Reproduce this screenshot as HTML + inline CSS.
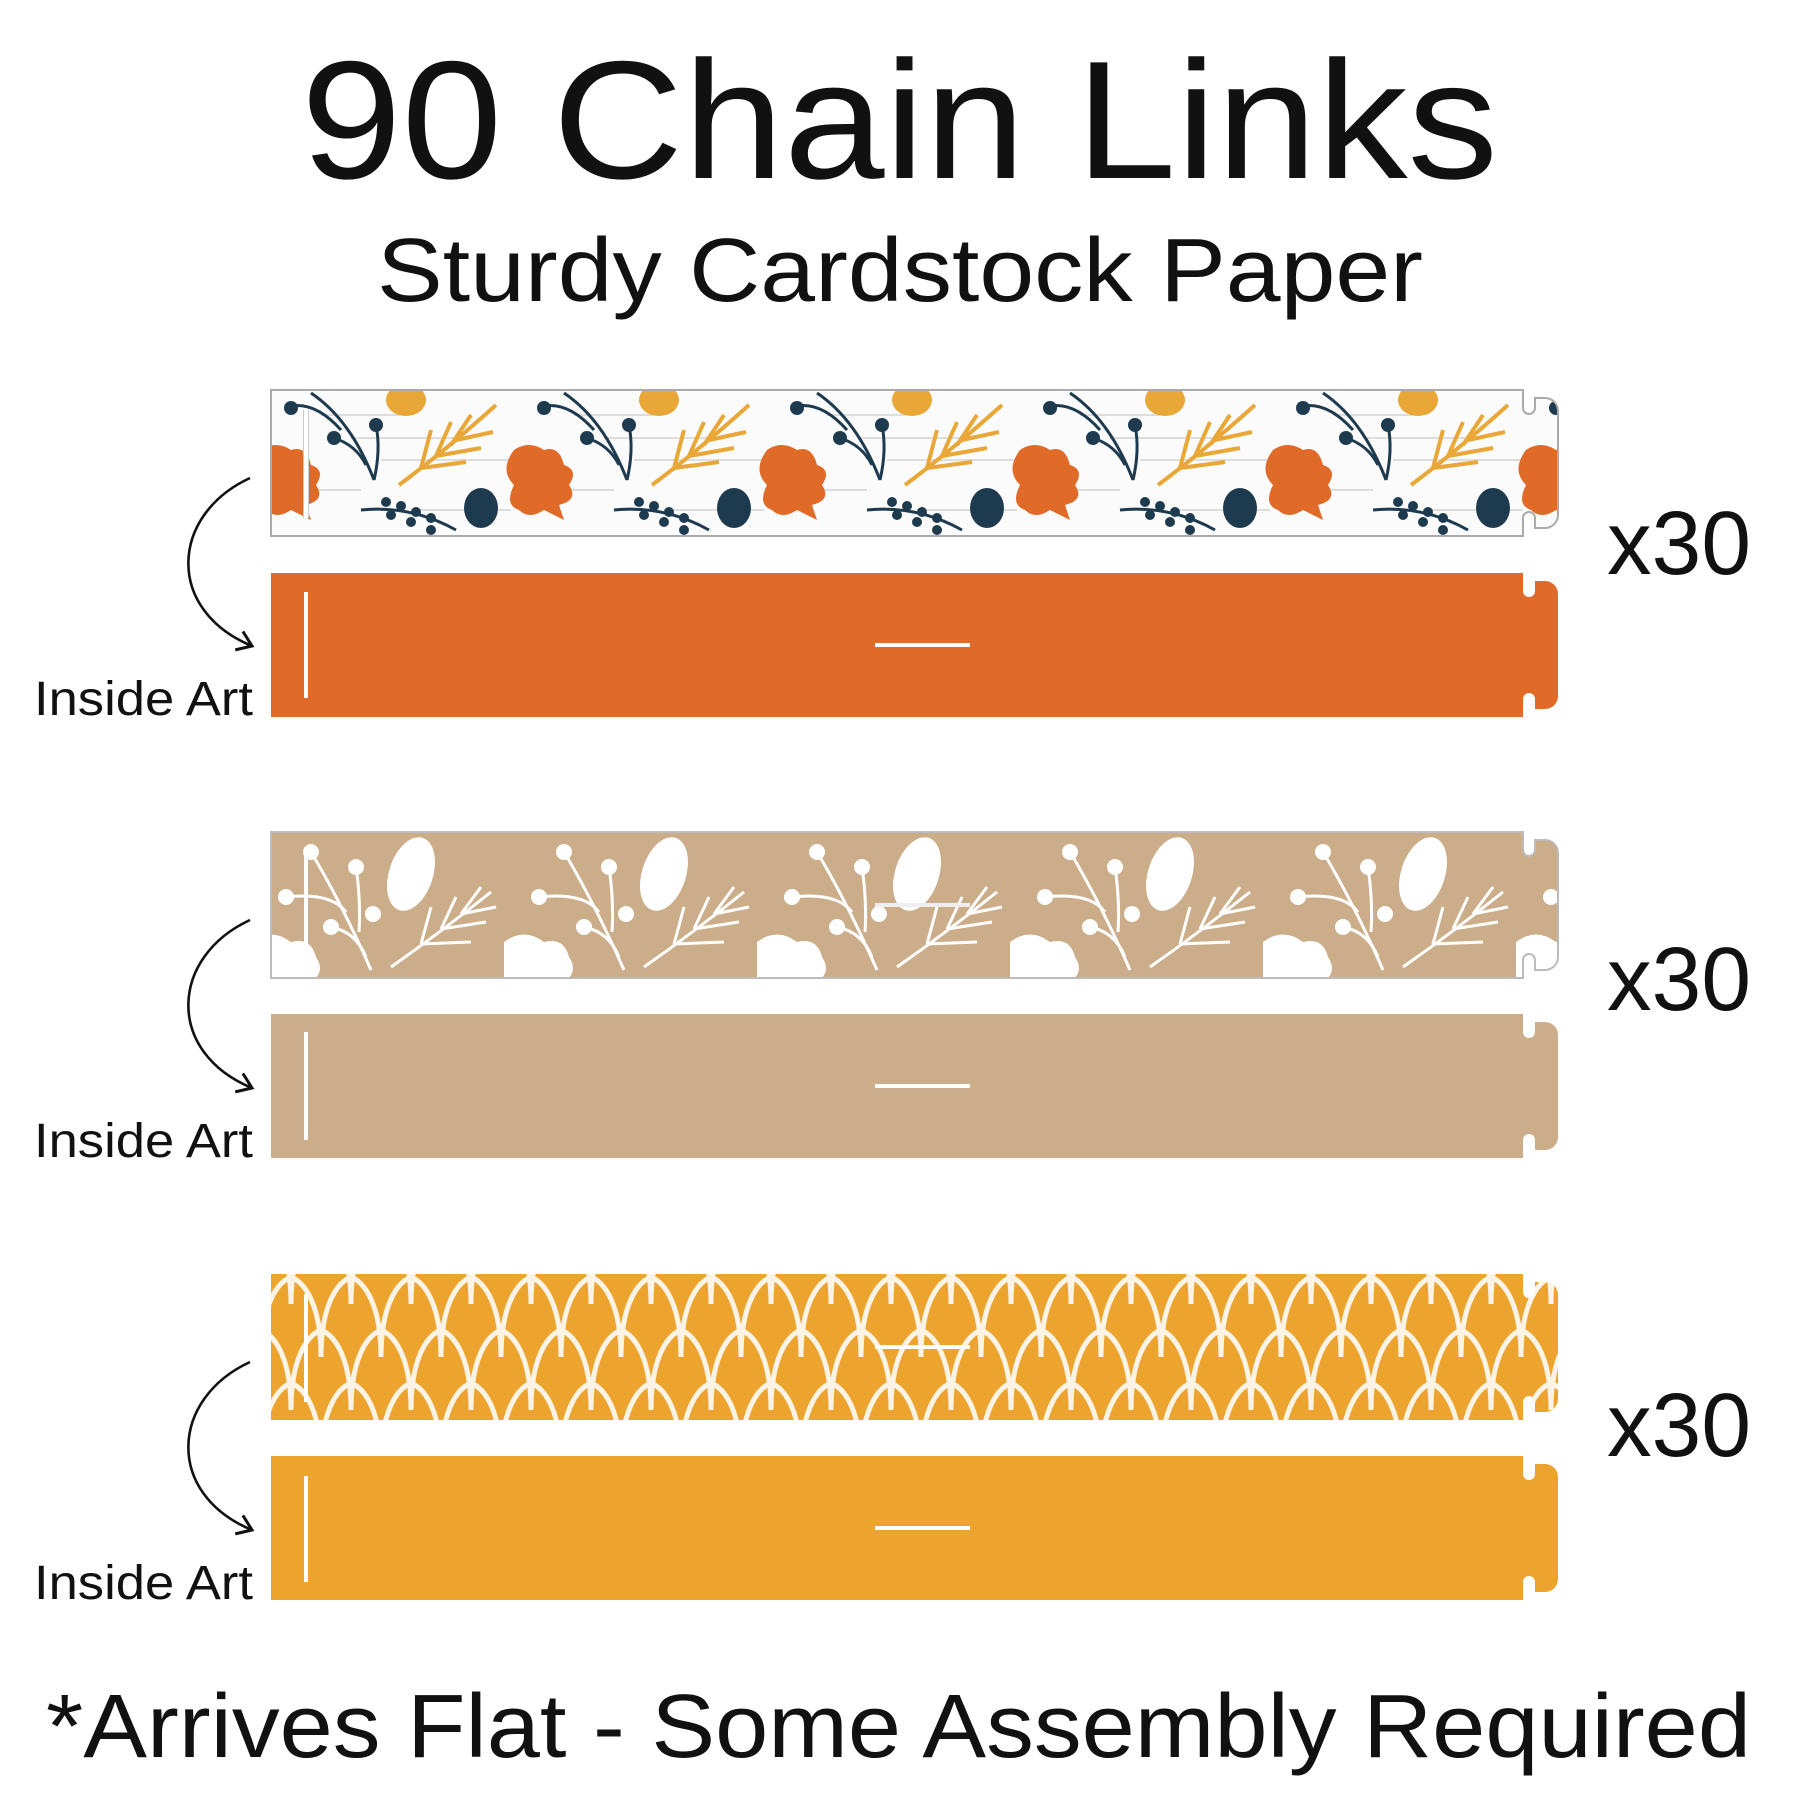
<!DOCTYPE html>
<html><head><meta charset="utf-8"><style>html,body{margin:0;padding:0;background:#fff}svg{display:block}</style></head>
<body>
<svg width="1800" height="1800" viewBox="0 0 1800 1800" xmlns="http://www.w3.org/2000/svg" font-family="Liberation Sans, sans-serif">
<defs>
<pattern id="leaf" patternUnits="userSpaceOnUse" x="271" y="390" width="253" height="146">
 <rect width="253" height="146" fill="#fbfbfb"/>
 <g stroke="#ddd" stroke-width="2"><line x1="50" y1="25" x2="130" y2="25"/><line x1="110" y1="70" x2="250" y2="70"/><line x1="0" y1="100" x2="90" y2="100"/><line x1="140" y1="120" x2="240" y2="120"/><line x1="80" y1="48" x2="200" y2="48"/></g>
 <g stroke="#1d3a4f" stroke-width="3" fill="none"><path d="M40,3 Q80,30 103,90"/><path d="M20,16 Q45,12 70,40"/><path d="M63,48 Q85,55 95,75"/><path d="M105,35 Q110,60 103,90"/><path d="M90,120 Q140,115 185,140"/></g>
 <g fill="#1d3a4f"><circle cx="20" cy="18" r="7"/><circle cx="63" cy="48" r="7"/><circle cx="105" cy="35" r="7"/><ellipse cx="210" cy="118" rx="17" ry="20"/><circle cx="115" cy="112" r="5"/><circle cx="130" cy="116" r="5"/><circle cx="145" cy="122" r="5"/><circle cx="160" cy="128" r="5"/><circle cx="120" cy="125" r="5"/><circle cx="140" cy="132" r="5"/><circle cx="160" cy="140" r="5"/></g>
 <ellipse cx="135" cy="10" rx="20" ry="16" fill="#e8a736"/>
 <g stroke="#e8a736" stroke-width="4" fill="none"><path d="M128,95 Q175,60 225,15"/><path d="M150,78 L160,40 M165,66 L180,32 M180,55 L200,25 M150,78 L195,72 M165,66 L210,58 M185,50 L222,42"/></g>
 <g fill="#e06a27"><path d="M-10,60 Q5,50 20,60 Q35,55 40,75 Q55,80 45,95 Q55,110 35,115 L40,130 L20,120 Q5,130 -5,120 Q-20,115 -10,95 Q-25,80 -10,60Z"/><path d="M243,60 Q258,50 273,60 Q288,55 293,75 Q308,80 298,95 Q308,110 288,115 L293,130 L273,120 Q258,130 248,120 Q233,115 243,95 Q228,80 243,60Z"/></g>
</pattern>
<pattern id="kraft" patternUnits="userSpaceOnUse" x="271" y="832" width="253" height="146">
 <rect width="253" height="146" fill="#cbad89"/>
 <g stroke="#fff" stroke-width="3" fill="none"><path d="M100,138 Q70,70 40,20"/><path d="M15,65 Q60,60 75,80"/><path d="M85,35 Q90,70 88,100"/><path d="M60,95 Q85,100 95,125"/><path d="M120,135 Q170,100 220,60"/><path d="M150,112 L160,75 M170,97 L185,65 M190,82 L210,55 M150,112 L200,110 M170,97 L215,90 M190,82 L225,75"/></g>
 <g fill="#fff"><circle cx="40" cy="20" r="8"/><circle cx="15" cy="65" r="8"/><circle cx="85" cy="35" r="8"/><circle cx="60" cy="95" r="8"/><circle cx="102" cy="82" r="8"/><ellipse cx="140" cy="42" rx="22" ry="38" transform="rotate(18 140 42)"/><path d="M-20,110 Q0,95 20,110 Q40,105 45,125 Q55,140 40,150 L-20,150Z"/><path d="M233,110 Q253,95 273,110 Q293,105 298,125 L298,150 L233,150Z"/></g>
</pattern>
<pattern id="scale" patternUnits="userSpaceOnUse" x="261" y="1277" width="60" height="106">
 <rect x="-5" y="-5" width="70" height="116" fill="#eca42f"/>
 <g stroke="#fbf3e4" stroke-width="5" fill="none">
  <path d="M0,-26 C0,-76 15,-100 30,-106 C45,-100 60,-76 60,-26"/>
  <path d="M0,80 C0,30 15,6 30,0 C45,6 60,30 60,80"/>
  <path d="M0,186 C0,136 15,112 30,106 C45,112 60,136 60,186"/>
  <path d="M-30,27 C-30,-23 -15,-47 0,-53 C15,-47 30,-23 30,27"/>
  <path d="M30,27 C30,-23 45,-47 60,-53 C75,-47 90,-23 90,27"/>
  <path d="M-30,133 C-30,83 -15,59 0,53 C15,59 30,83 30,133"/>
  <path d="M30,133 C30,83 45,59 60,53 C75,59 90,83 90,133"/>
 </g>
</pattern>
<marker id="ah" markerWidth="24" markerHeight="24" refX="18" refY="12" orient="auto" markerUnits="userSpaceOnUse"><path d="M4,2 L18,12 L4,22" fill="none" stroke="#111" stroke-width="3"/></marker>
</defs>

<text x="301" y="178" font-size="168" textLength="1197" lengthAdjust="spacingAndGlyphs" fill="#111">90 Chain Links</text>
<text x="377" y="301" font-size="90" textLength="1046" lengthAdjust="spacingAndGlyphs" fill="#111">Sturdy Cardstock Paper</text>

<path d="M271,390 H1523 V408 a6,6 0 0 0 12,0 V398 H1545 a13,13 0 0 1 13,13 V515 a13,13 0 0 1 -13,13 H1535 V518 a6,6 0 0 0 -12,0 V536 H271 Z" fill="url(#leaf)" stroke="#aaa" stroke-width="2"/>
<path d="M271,573 H1523 V591 a6,6 0 0 0 12,0 V581 H1545 a13,13 0 0 1 13,13 V696 a13,13 0 0 1 -13,13 H1535 V699 a6,6 0 0 0 -12,0 V717 H271 Z" fill="#e06a27"/>
<path d="M271,832 H1523 V850 a6,6 0 0 0 12,0 V840 H1545 a13,13 0 0 1 13,13 V957 a13,13 0 0 1 -13,13 H1535 V960 a6,6 0 0 0 -12,0 V978 H271 Z" fill="url(#kraft)" stroke="#bbb" stroke-width="2"/>
<path d="M271,1014 H1523 V1032 a6,6 0 0 0 12,0 V1022 H1545 a13,13 0 0 1 13,13 V1137 a13,13 0 0 1 -13,13 H1535 V1140 a6,6 0 0 0 -12,0 V1158 H271 Z" fill="#cbad89"/>
<path d="M271,1274 H1523 V1292 a6,6 0 0 0 12,0 V1282 H1545 a13,13 0 0 1 13,13 V1399 a13,13 0 0 1 -13,13 H1535 V1402 a6,6 0 0 0 -12,0 V1420 H271 Z" fill="url(#scale)"/>
<path d="M271,1456 H1523 V1474 a6,6 0 0 0 12,0 V1464 H1545 a13,13 0 0 1 13,13 V1579 a13,13 0 0 1 -13,13 H1535 V1582 a6,6 0 0 0 -12,0 V1600 H271 Z" fill="#eca42f"/>

<g stroke="#fff" stroke-width="4">
 <line x1="306" y1="410" x2="306" y2="518" stroke="#ccc" stroke-width="6"/><line x1="306" y1="410" x2="306" y2="518"/>
 <line x1="306" y1="592" x2="306" y2="698"/><line x1="875" y1="645" x2="970" y2="645"/>
 <line x1="306" y1="852" x2="306" y2="960"/><line x1="875" y1="905" x2="970" y2="905" stroke="#eee"/>
 <line x1="306" y1="1032" x2="306" y2="1140"/><line x1="875" y1="1086" x2="970" y2="1086"/>
 <line x1="306" y1="1294" x2="306" y2="1402"/><line x1="875" y1="1347" x2="970" y2="1347"/>
 <line x1="306" y1="1476" x2="306" y2="1582"/><line x1="875" y1="1528" x2="970" y2="1528"/>
</g>

<g fill="none" stroke="#111" stroke-width="2.6" marker-end="url(#ah)">
 <path d="M250,478 C170,515 165,610 252,646"/>
 <path d="M250,920 C170,957 165,1052 252,1088"/>
 <path d="M250,1362 C170,1399 165,1494 252,1530"/>
</g>

<g font-size="48" fill="#111">
 <text x="34" y="715" textLength="219" lengthAdjust="spacingAndGlyphs">Inside Art</text>
 <text x="34" y="1157" textLength="219" lengthAdjust="spacingAndGlyphs">Inside Art</text>
 <text x="34" y="1599" textLength="219" lengthAdjust="spacingAndGlyphs">Inside Art</text>
</g>
<g font-size="90" fill="#111">
 <text x="1607" y="574" textLength="144" lengthAdjust="spacingAndGlyphs">x30</text>
 <text x="1607" y="1010" textLength="144" lengthAdjust="spacingAndGlyphs">x30</text>
 <text x="1607" y="1456" textLength="144" lengthAdjust="spacingAndGlyphs">x30</text>
</g>
<text x="46" y="1757" font-size="90" textLength="1705" lengthAdjust="spacingAndGlyphs" fill="#111">*Arrives Flat - Some Assembly Required</text>
</svg>
</body></html>
